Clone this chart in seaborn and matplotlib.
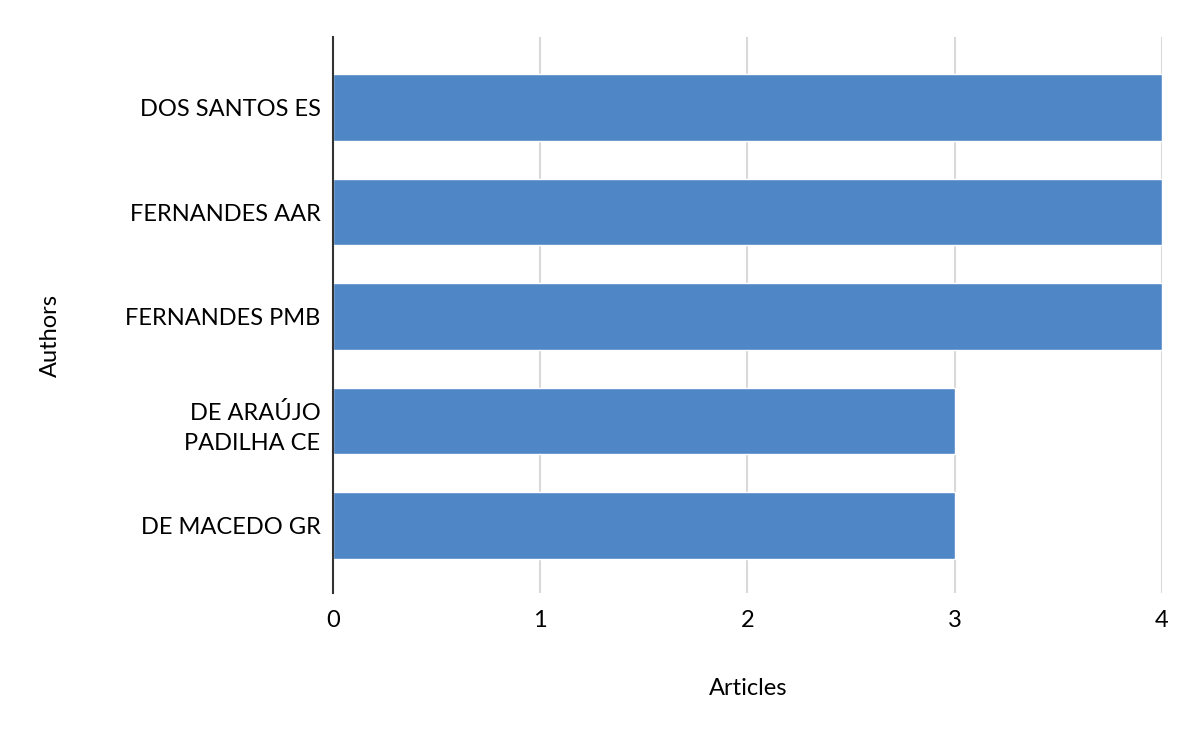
import matplotlib
matplotlib.use("Agg")
import matplotlib.pyplot as plt
import pandas as pd
import seaborn as sns

authors = ["DOS SANTOS ES", "FERNANDES AAR", "FERNANDES PMB", "DE ARAÚJO\nPADILHA CE", "DE MACEDO GR"]
articles = [4, 4, 4, 3, 3]
x_ticks = [0, 1, 2, 3, 4]

df = pd.DataFrame({"Authors": authors, "Articles": articles})

sns.set_theme(style="white")
plt.rcParams["font.family"] = ["Lato", "DejaVu Sans"]

fig = plt.figure(figsize=(12, 7.42), dpi=100)
ax = fig.add_axes([0.2775, 0.2008, 0.6908, 0.7493])

sns.barplot(data=df, x="Articles", y="Authors", color="#4F86C6", saturation=1,
            width=0.64, ax=ax, zorder=3)

ax.set_xlim(0, 4)
ax.set_ylim(4.646, -0.675)
ax.set_xticks(x_ticks)
ax.set_xticklabels([str(t) for t in x_ticks], fontsize=17, color="#000000")
ax.tick_params(axis="y", labelsize=17, colors="#000000", length=0, pad=9)
ax.tick_params(axis="x", length=0, pad=12)
for lbl in ax.get_yticklabels():
    lbl.set_horizontalalignment("right")
    lbl.set_multialignment("right")
    lbl.set_linespacing(1.55)

ax.grid(axis="x", color="#D9D9D9", linewidth=1.5, zorder=0)
for side in ["top", "right", "bottom"]:
    ax.spines[side].set_visible(False)
ax.spines["left"].set_color("#333333")
ax.spines["left"].set_linewidth(1.5)
ax.spines["left"].set_zorder(4)

ax.set_xlabel("Articles", fontsize=17, color="#000000")
ax.set_ylabel("Authors", fontsize=17, color="#000000")
ax.xaxis.set_label_coords(0.5006, -0.171)
ax.yaxis.set_label_coords(-0.341, 0.464)
ax.xaxis.label.set_verticalalignment("center")
ax.yaxis.label.set_verticalalignment("center")

fig.savefig("out.png", dpi=100)
